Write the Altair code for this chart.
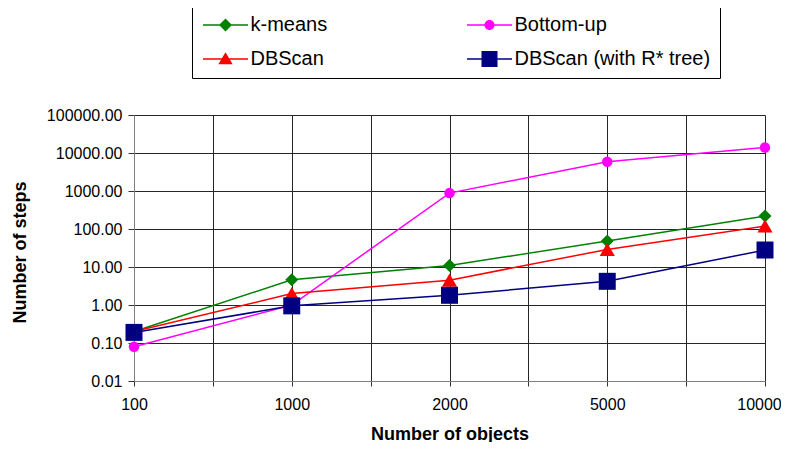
import altair as alt
import pandas as pd

categories = ["100", "1000", "2000", "5000", "10000"]
series_names = ["k-means", "Bottom-up", "DBScan", "DBScan (with R* tree)"]
kmeans = [0.2, 4.6, 11.0, 48.0, 220.0]
bottom_up = [0.08, 1.0, 880.0, 5900.0, 14000.0]
dbscan = [0.2, 2.0, 4.5, 29.0, 120.0]
dbscan_rstar = [0.19, 0.95, 1.8, 4.2, 28.0]
y_ticks = [0.01, 0.1, 1, 10, 100, 1000, 10000, 100000]

colors = ["#008000", "#FF00FF", "#FF0000", "#000080"]
shapes = ["diamond", "circle", "triangle-up", "square"]
marker_sizes = [169, 110, 230, 289]

# legend symbols: a short line with the marker on it (unit = 8px)
seg = "M-2.8125,-0.09H2.8125V0.09H-2.8125Z"
legend_shapes = [
    seg + "M0,-0.81L0.81,0L0,0.81L-0.81,0Z",
    seg + "M0.625,0A0.625,0.625,0,1,1,-0.625,0A0.625,0.625,0,1,1,0.625,0Z",
    seg + "M0,-0.85L0.9,0.65H-0.9Z",
    seg + "M-1,-1H1V1H-1Z",
]

values = [kmeans, bottom_up, dbscan, dbscan_rstar]
rows = []
for s_i, (name, vals) in enumerate(zip(series_names, values)):
    for c_i, (cat, v) in enumerate(zip(categories, vals)):
        rows.append({"series": name, "order": s_i, "idx": c_i, "cat": cat, "value": v})
df = pd.DataFrame(rows)

FONT = "Liberation Sans"

label_arr = "[" + ",".join("'" + c + "'" for c in categories) + "]"
x_vals = [i / 2 for i in range(2 * (len(categories) - 1) + 1)]
last = len(categories) - 1

x_enc = alt.X(
    "idx:Q",
    scale=alt.Scale(domain=[0, last], nice=False, zero=False),
    axis=alt.Axis(
        values=x_vals,
        labelExpr=f"datum.value % 1 == 0 ? {label_arr}[datum.value] : ''",
        title="Number of objects",
        titleFont=FONT, titleFontSize=18, titleFontWeight="bold", titleColor="#000",
        titleBaseline="alphabetic", titleY=58,
        labelFont=FONT, labelFontSize=16, labelColor="#000", labelPadding=10,
        labelOffset={"condition": {"test": f"datum.value == {last}", "value": -6}, "value": 0},
        tickSize=5, tickColor="#333", domainColor="#808080",
        grid=True, gridColor="#262626", gridOpacity=1, labelFlush=False,
        labelOverlap=False,
    ),
)
y_enc = alt.Y(
    "value:Q",
    scale=alt.Scale(type="log", domain=[0.01, 100000], nice=False),
    axis=alt.Axis(
        values=y_ticks, format=".2f",
        title="Number of steps",
        titleFont=FONT, titleFontSize=18, titleFontWeight="bold", titleColor="#000",
        titleBaseline="alphabetic", titleX=-109, titleY=137,
        labelFont=FONT, labelFontSize=16, labelColor="#000", labelPadding=6,
        tickSize=6, tickColor="#333", domainColor="#808080",
        grid=True, gridColor="#262626", gridOpacity=1, labelOverlap=False,
    ),
)

line_layers = []
point_layers = []
for name, col, shp, sz in zip(series_names, colors, shapes, marker_sizes):
    base = alt.Chart(df).transform_filter(alt.datum.series == name)
    line_layers.append(
        base.mark_line(strokeWidth=1.5, color=col).encode(x=x_enc, y=y_enc, order="idx:Q")
    )
    point_layers.append(
        base.mark_point(filled=True, opacity=1, strokeWidth=0, shape=shp, size=sz, color=col)
        .encode(x=x_enc, y=y_enc)
    )

legend_props = dict(
    orient="none", legendX=58, legendY=-109, columns=2, direction="horizontal",
    title=None, padding=9, strokeColor="#000", fillColor="#fff",
    symbolSize=256, symbolOffset=14.5, labelOffset=15,
    rowPadding=14, columnPadding=137, symbolOpacity=1, symbolStrokeWidth=0,
    labelFont=FONT, labelFontSize=20, labelColor="#000", labelLimit=400,
)
# helper layer that only feeds the legend; its marks sit off-canvas
legend_layer = alt.Chart(df).mark_point(filled=True, opacity=1).encode(
    x=alt.value(-3000), y=alt.value(-3000),
    color=alt.Color("series:N", scale=alt.Scale(domain=series_names, range=colors),
                    legend=alt.Legend(**legend_props)),
    shape=alt.Shape("series:N", scale=alt.Scale(domain=series_names, range=legend_shapes),
                    legend=alt.Legend(**legend_props)),
)

chart = alt.layer(*line_layers, *point_layers, legend_layer).properties(
    width=631, height=266,
    autosize=alt.AutoSizeParams(type="none"),
    padding={"left": 126, "top": 107, "right": 16, "bottom": 61},
    background="white",
).configure_view(stroke=None)

chart.save("out.html", embed_options={"renderer": "svg", "actions": False})
